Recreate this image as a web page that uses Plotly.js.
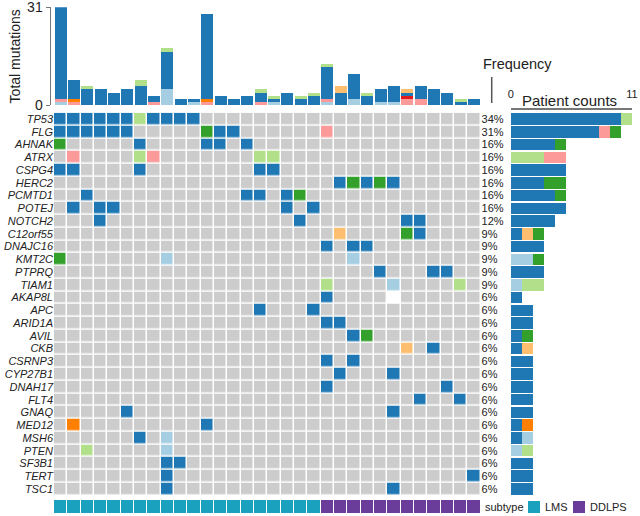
<!DOCTYPE html>
<html><head><meta charset="utf-8">
<script src="https://cdn.plot.ly/plotly-3.0.1.min.js"></script>
<style>html,body{margin:0;padding:0;background:#fff}#chart{width:640px;height:516px}</style>
</head><body><div id="chart"></div>
<script>
// ---------------- DATA ----------------
const genes = ['TP53','FLG','AHNAK','ATRX','CSPG4','HERC2','PCMTD1','POTEJ','NOTCH2','C12orf55',
  'DNAJC16','KMT2C','PTPRQ','TIAM1','AKAP8L','APC','ARID1A','AVIL','CKB','CSRNP3',
  'CYP27B1','DNAH17','FLT4','GNAQ','MED12','MSH6','PTEN','SF3B1','TERT','TSC1'];
const freqLabels = ['34%','31%','16%','16%','16%','16%','16%','16%','12%','9%',
  '9%','9%','9%','9%','6%','6%','6%','6%','6%','6%',
  '6%','6%','6%','6%','6%','6%','6%','6%','6%','6%'];
const subtypes = ['LMS','LMS','LMS','LMS','LMS','LMS','LMS','LMS','LMS','LMS',
  'LMS','LMS','LMS','LMS','LMS','LMS','LMS','LMS','LMS','LMS',
  'DDLPS','DDLPS','DDLPS','DDLPS','DDLPS','DDLPS','DDLPS','DDLPS','DDLPS','DDLPS','DDLPS','DDLPS'];
// mutated patients (column index) per gene, and mutation type per entry
const mutPatients = [
  [0,1,2,3,4,5,6,7,8,9,10], [0,1,2,3,4,5,11,12,13,20], [0,6,11,12,14], [1,6,7,15,16],
  [0,1,6,15,16], [21,22,23,24,25], [2,14,15,17,18], [1,3,4,17,19], [3,18,26,27],
  [21,26,27], [20,22,23], [0,8,22], [24,28,29], [20,25,30], [20,25], [15,19], [20,21],
  [22,23], [26,28], [20,22], [21,25], [20,29], [27,30], [5,25], [1,11], [6,8], [2,8],
  [8,9], [8,31], [8,25]];
const mutTypes = [
  'BBBBBBgBBBB','BBBBBBGBBP','GBBBB','PgPgg','BBBBB','BGBGB','BBBBG','BBBBB','BBBB',
  'oGB','BBB','Gbb','BBB','gbg','BW','BB','BB','BG','oB','BB','BB','BB','BB','BB',
  'OB','Bb','gb','BB','BB','BB'];
// total mutations per patient, by type
const totLightBlue = [1,0,0,0,0,0,0,0,5,0,1,0,0,0,0,0,1,0,0,0,1,0,2,0,1,1,0,0,0,0,0,0];
const totPink      = [1,1,0,0,0,0,0,1,0,0,0,1,0,0,0,1,0,0,0,0,1,0,0,0,0,0,2,2,0,0,0,0];
const totRed       = [0,0,0,0,0,0,0,0,0,0,0,0,0,0,0,0,0,0,0,0,0,0,0,0,0,0,1,0,0,0,0,0];
const totOrange    = [0,1,0,0,0,0,0,0,0,0,0,1,0,0,0,0,0,0,0,0,0,0,0,0,0,0,0,0,0,0,0,0];
const totBlue      = [29,6,5,5,4,5,6,2,12,2,1,27,3,2,3,3,1,4,2,3,10,4,8,3,4,5,1,4,5,4,1,2];
const totLightGreen= [0,0,1,0,0,0,2,0,1,0,0,0,0,0,0,1,1,0,1,1,1,0,0,1,0,0,0,0,0,0,1,0];
const totLightOrange=[0,0,0,0,0,0,0,0,0,0,0,0,0,0,0,0,0,0,0,0,0,2,0,0,0,0,1,0,0,0,0,0];

// ---------------- STYLE ----------------
const typeColors = {none:'#cccccc', B:'#1f78b4', b:'#a6cee3', G:'#33a02c', g:'#b2df8a',
  P:'#fb9a99', R:'#e31a1c', o:'#fdbf6f', O:'#ff7f00', W:'#ffffff'};
const subtypeColors = {LMS:'#1aa1bd', DDLPS:'#6a3d9a'};
const FONT = 'Liberation Sans, Arial, Helvetica, sans-serif';
const W = 640, H = 516;
const px = x => x / W, py = y => 1 - y / H;

const gridX = [54, 480.6];
const gridY = [112.7, 495.3];
const nP = subtypes.length;
const patientIdx = subtypes.map((_, i) => i);
const geneIdx = genes.map((_, i) => i);

// heatmap matrix
const codeOrder = ['none','B','b','G','g','P','R','o','O','W'];
const z = genes.map(() => patientIdx.map(() => 0));
genes.forEach((g, gi) => {
  mutPatients[gi].forEach((p, k) => { z[gi][p] = codeOrder.indexOf(mutTypes[gi][k]); });
});
const nC = codeOrder.length;
const colorscale = [];
codeOrder.forEach((c, k) => {
  colorscale.push([k / nC, typeColors[c]]);
  colorscale.push([(k + 1) / nC, typeColors[c]]);
});

const traces = [];
traces.push({type:'heatmap', x: patientIdx, y: geneIdx, z: z, colorscale: colorscale,
  zmin: -0.5, zmax: nC - 0.5, showscale: false, xgap: 1.5, ygap: 1.5,
  xaxis: 'x', yaxis: 'y', hoverinfo: 'skip'});
traces.push({type:'scatter', mode:'markers', x:[0], y:[0], marker:{opacity:0},
  xaxis:'x', yaxis:'y4', hoverinfo:'skip', showlegend:false});

// top stacked bars
const topSeries = [[totLightBlue,'b'],[totPink,'P'],[totRed,'R'],[totOrange,'O'],
  [totBlue,'B'],[totLightGreen,'g'],[totLightOrange,'o']];
topSeries.forEach(([arr, t]) => traces.push({type:'bar', x: patientIdx, y: arr,
  marker:{color: typeColors[t], line:{width:0}}, xaxis:'x2', yaxis:'y2',
  hoverinfo:'skip', showlegend:false}));

// right stacked bars: patient counts per gene by type
['B','b','g','P','o','O','G','W'].forEach(t => {
  const counts = genes.map((g, gi) => mutTypes[gi].split('').filter(c => c === t).length);
  traces.push({type:'bar', orientation:'h', x: counts, y: geneIdx,
    marker:{color: typeColors[t], line:{width:0}}, xaxis:'x3', yaxis:'y3',
    hoverinfo:'skip', showlegend:false});
});

// subtype bar
traces.push({type:'heatmap', x: patientIdx, y:[0], z:[subtypes.map(s => s === 'LMS' ? 0 : 1)],
  colorscale:[[0, subtypeColors.LMS],[0.5, subtypeColors.LMS],[0.5, subtypeColors.DDLPS],[1, subtypeColors.DDLPS]],
  zmin:0, zmax:1, showscale:false, xgap:1, xaxis:'x5', yaxis:'y5', hoverinfo:'skip'});

const hmDomainY = [py(gridY[1]), py(gridY[0])];
const ann = (text, x, y, size, xanchor) => ({text, x: px(x), y: py(y), xref:'paper', yref:'paper',
  xanchor: xanchor || 'center', yanchor:'middle', showarrow:false, font:{size, color:'#222'}});
const layout = {
  width: W, height: H, margin:{l:0, r:0, t:0, b:0},
  paper_bgcolor:'#fff', plot_bgcolor:'rgba(0,0,0,0)',
  font:{family: FONT, color:'#222'},
  barmode:'stack', bargap: 0.1, showlegend:false,
  xaxis:{domain:[px(gridX[0]), px(gridX[1])], range:[-0.5, nP - 0.5], visible:false, anchor:'y'},
  yaxis:{domain: hmDomainY, range:[genes.length - 0.5, -0.5], tickvals: geneIdx,
    ticktext: genes.map(g => '<i>' + g + '</i>'), tickfont:{size:11, color:'#222'},
    showgrid:false, zeroline:false, showline:false, ticks:'', anchor:'x'},
  yaxis4:{overlaying:'y', side:'right', anchor:'x', range:[genes.length - 0.5, -0.5],
    tickvals: geneIdx, ticktext: freqLabels, tickfont:{size:11, color:'#222'},
    showgrid:false, zeroline:false, showline:false, ticks:''},
  xaxis2:{domain:[px(gridX[0]), px(gridX[1])], range:[-0.5, nP - 0.5], visible:false, anchor:'y2'},
  yaxis2:{domain:[py(105.3), py(7.3)], range:[0, 31], tickvals:[0, 31], ticktext:['0','31'],
    anchor:'free', position: px(49.5), showline:true, linecolor:'#777', linewidth:1.5,
    ticks:'outside', ticklen:4, tickcolor:'#777', tickwidth:1.5, tickfont:{size:14, color:'#222'},
    ticklabeloverflow:'allow', showgrid:false, zeroline:false,
    title:{text:'Total mutations', font:{size:14, color:'#222'}, standoff:1}},
  xaxis3:{domain:[px(510.7), px(632)], range:[0, 11], side:'top', anchor:'free', position: py(108.3),
    tickvals:[0, 11], ticks:'inside', ticklen:4, tickcolor:'#777', tickwidth:1.2,
    showline:true, linecolor:'#777', linewidth:1.2, showgrid:false, zeroline:false,
    tickfont:{size:11, color:'#222'}, ticklabelstandoff: 6, ticklabeloverflow:'allow'},
  yaxis3:{domain: hmDomainY, range:[genes.length - 0.5, -0.5], visible:false, anchor:'x3'},
  xaxis5:{domain:[px(gridX[0]), px(gridX[1])], range:[-0.5, nP - 0.5], visible:false, anchor:'y5'},
  yaxis5:{domain:[py(513.3), py(500)], range:[-0.5, 0.5], visible:false, anchor:'x5'},
  annotations:[
    ann('Frequency', 517, 64, 14.5),
    ann('Patient counts', 569, 100, 15),
    ann('subtype', 483, 507, 11, 'left'),
    ann('LMS', 542.5, 507, 11, 'left'),
    ann('DDLPS', 587.5, 507, 11, 'left')
  ],
  shapes:[
    {type:'line', xref:'paper', yref:'paper', x0: px(491.7), x1: px(491.7), y0: py(77), y1: py(103),
      line:{color:'#555', width:1.5}},
    {type:'rect', xref:'paper', yref:'paper', x0: px(528), x1: px(540), y0: py(513), y1: py(501),
      fillcolor: subtypeColors.LMS, line:{width:0}},
    {type:'rect', xref:'paper', yref:'paper', x0: px(573), x1: px(585), y0: py(513), y1: py(501),
      fillcolor: subtypeColors.DDLPS, line:{width:0}}
  ]
};
Plotly.newPlot('chart', traces, layout, {staticPlot:true, displayModeBar:false});
</script></body></html>
